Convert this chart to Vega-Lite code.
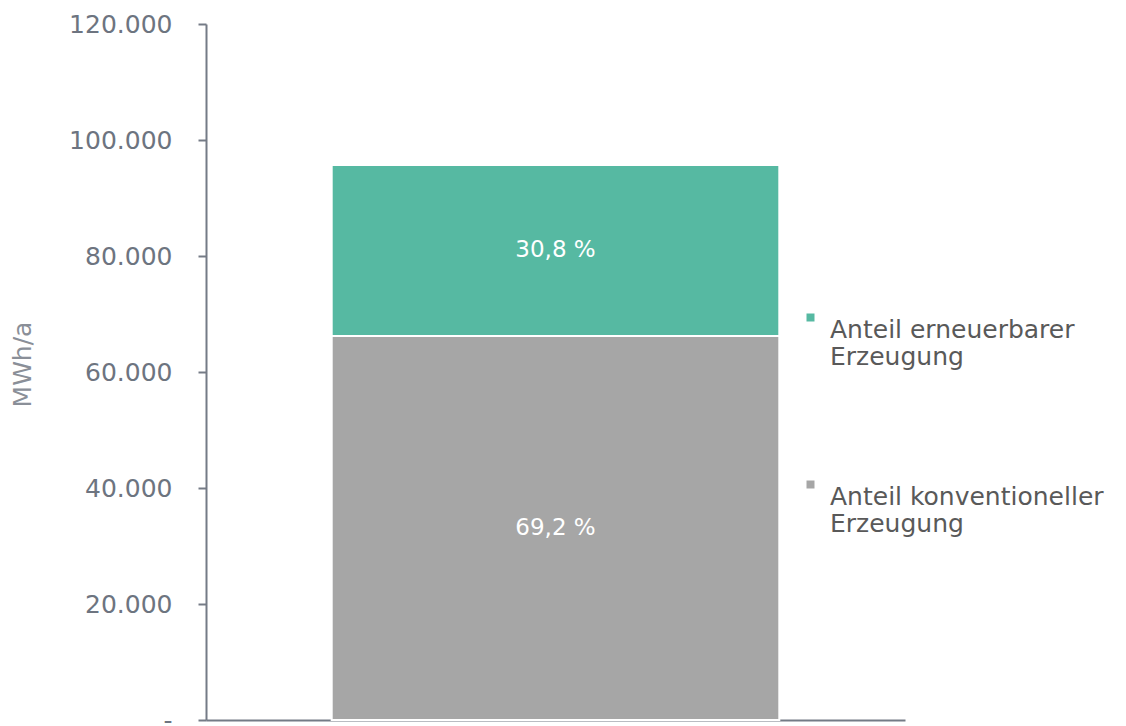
{
  "$schema": "https://vega.github.io/schema/vega-lite/v6.json",
  "width": 699,
  "height": 696,
  "autosize": {"type": "none"},
  "padding": {"left": 206, "top": 24, "right": 221, "bottom": 6},
  "background": "white",
  "config": {
    "view": {"stroke": null},
    "font": "DejaVu Sans"
  },
  "data": {
    "values": [
      {"kat": "Gesamt", "typ": "Anteil konventioneller Erzeugung", "wert": 66200, "anteil": "69,2 %", "ord": 1},
      {"kat": "Gesamt", "typ": "Anteil erneuerbarer Erzeugung", "wert": 29500, "anteil": "30,8 %", "ord": 2}
    ]
  },
  "transform": [
    {"stack": "wert", "groupby": ["kat"], "sort": [{"field": "ord"}], "as": ["y0", "y1"]},
    {"calculate": "(datum.y0 + datum.y1) / 2", "as": "ymitte"}
  ],
  "encoding": {
    "x": {
      "field": "kat",
      "type": "nominal",
      "scale": {"paddingInner": 0.359, "paddingOuter": 0.18},
      "axis": {"title": null, "labels": false, "ticks": false, "domainColor": "#747b86", "domainWidth": 2}
    }
  },
  "layer": [
    {
      "mark": {"type": "bar", "stroke": "white", "strokeWidth": 2},
      "encoding": {
        "y": {
          "field": "y0",
          "type": "quantitative",
          "scale": {"domain": [0, 120000]},
          "axis": {
            "title": "MWh/a",
            "titleFont": "DejaVu Sans",
            "titleFontSize": 25,
            "titleFontWeight": "normal",
            "titleColor": "#8a8f98",
            "titleX": -184,
            "titleY": 340,
            "titleAlign": "center",
            "titleBaseline": "middle",
            "titleAngle": -90,
            "values": [0, 20000, 40000, 60000, 80000, 100000, 120000],
            "labelExpr": "datum.value == 0 ? '-' : replace(format(datum.value, ',.0f'), ',', '.')",
            "labelFontSize": 25,
            "labelColor": "#6d7480",
            "labelPadding": 26,
            "grid": false,
            "tickColor": "#747b86",
            "tickSize": 8,
            "tickWidth": 2,
            "domainColor": "#747b86",
            "domainWidth": 2
          }
        },
        "y2": {"field": "y1"},
        "color": {
          "field": "typ",
          "type": "nominal",
          "scale": {
            "domain": ["Anteil erneuerbarer Erzeugung", "Anteil konventioneller Erzeugung"],
            "range": ["#56b9a2", "#a6a6a6"]
          },
          "legend": {
            "title": null,
            "orient": "none",
            "legendX": 592,
            "legendY": 281,
            "symbolType": "square",
            "symbolSize": 64,
            "symbolStrokeWidth": 0,
            "labelFontSize": 25,
            "labelColor": "#595959",
            "labelBaseline": "top",
            "labelOffset": 7,
            "labelLimit": 400,
            "rowPadding": 102,
            "labelExpr": "datum.label == 'Anteil erneuerbarer Erzeugung' ? ['Anteil erneuerbarer', 'Erzeugung'] : ['Anteil konventioneller', 'Erzeugung']"
          }
        }
      }
    },
    {
      "mark": {"type": "text", "color": "white", "fontSize": 23, "font": "DejaVu Sans", "baseline": "middle"},
      "encoding": {
        "y": {"field": "ymitte", "type": "quantitative"},
        "text": {"field": "anteil"}
      }
    }
  ]
}
